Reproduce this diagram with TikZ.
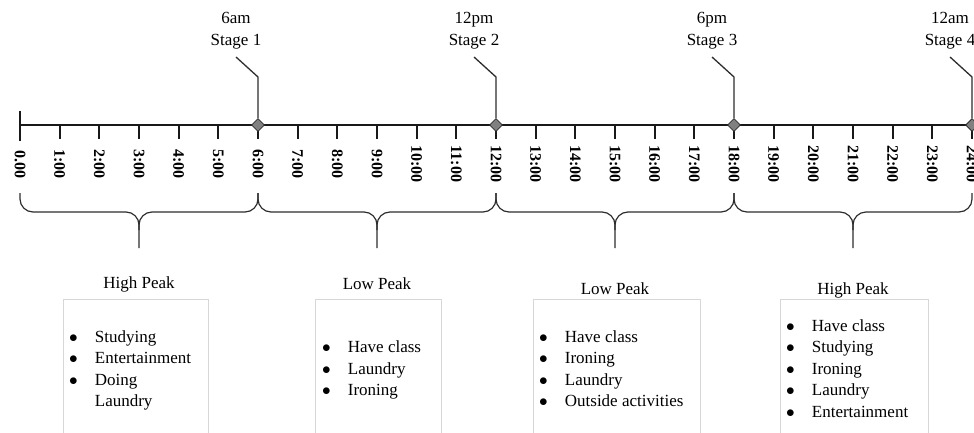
\documentclass[tikz,border=0pt]{standalone}
\usepackage{fontspec}
\setmainfont{Liberation Serif}
\usetikzlibrary{
    positioning,                      % above=of, below=of, etc.
    shapes.geometric,                 % diamond
    calc                              % ($(a)+(1,0)$)
}
\definecolor{mark_gray}{RGB}{128,128,128}
\definecolor{line_dark}{RGB}{45,45,45}
\definecolor{frame_light}{RGB}{215,215,215}
\tikzset{
    axis/.style={
        line width=2pt, black!90
    },
    hourtick/.style={
        line width=1.8pt, black!90
    },
    hourlabel/.style={
        rotate=-90, inner sep=0pt,
        font=\fontsize{16}{16}\selectfont\bfseries
    },
    stagemark/.style={
        diamond, draw=line_dark, fill=mark_gray,
        minimum size=13pt, inner sep=0pt, line width=0.8pt
    },
    stageline/.style={
        line_dark, line width=1.3pt
    },
    stagelabel/.style={
        align=center, inner sep=0pt, anchor=south,
        font=\fontsize{17}{21.5}\selectfont
    },
    brace/.style={
        line_dark, line width=1.2pt, rounded corners=13pt
    },
    peakbox/.style={
        draw=frame_light, line width=1pt, anchor=north west,
        minimum height=160pt, inner sep=0pt
    },
    peaktitle/.style={
        anchor=base, inner sep=0pt,
        font=\fontsize{17}{21.5}\selectfont
    },
    peaklist/.style={
        anchor=west, inner sep=0pt,
        font=\fontsize{17}{21.5}\selectfont
    }
}
\newcommand{\itm}{\makebox[25.7pt][l]{$\bullet$}}

\begin{document}
\begin{tikzpicture}[x=1pt, y=1pt]
    \useasboundingbox (0,0) rectangle (974,-433);

    % --- Eje de 24 horas ---
    \coordinate (t0) at (20,-125);
    \coordinate (tend) at (974,-125);
    \draw[axis] (t0) -- (tend);
    \draw[axis] ([yshift=14pt]t0) -- ([yshift=-16pt]t0);
    \foreach \h in {1,...,24} {
        \pgfmathsetmacro\hx{20+\h*39.667}
        \draw[hourtick] (\hx,-125) -- ++(0,-14);
    }
    \foreach \h in {0,...,24} {
        \pgfmathsetmacro\hx{20+\h*39.667}
        \node[hourlabel] (hour\h) at (\hx,-164)
            {\ifnum\h=0 0.00\else\h:00\fi};
    }

    % --- Etapas ---
    \foreach \i/\h/\tm in {1/6/6am, 2/12/12pm, 3/18/6pm, 4/24/12am} {
        \pgfmathsetmacro\hx{20+\h*39.667}
        \node[stagemark] (mark\i) at (\hx,-125) {};
        \node[stagelabel] (stage\i) at (\hx-22,-49) {\tm\\Stage \i};
        \draw[stageline] ([yshift=-8pt]stage\i.south) -- ++(22,-20) -- (mark\i.north);
    }

    % --- Llaves por intervalo ---
    \foreach \a/\b in {0/6, 6/12, 12/18, 18/24} {
        \pgfmathsetmacro\xa{20+\a*39.667}
        \pgfmathsetmacro\xb{20+\b*39.667}
        \pgfmathsetmacro\xc{(\xa+\xb)/2}
        \draw[brace] (\xa,-193) |- (\xc,-212) -- (\xc,-248);
        \draw[brace] (\xb,-193) |- (\xc,-212) -- (\xc,-230);
    }

    % --- Cajas de actividades ---
    \node[peakbox, minimum width=145pt] (box1) at (63,-299) {};
    \node[peakbox, minimum width=126pt] (box2) at (315,-299) {};
    \node[peakbox, minimum width=167pt] (box3) at (533,-299) {};
    \node[peakbox, minimum width=148pt] (box4) at (780,-299) {};

    \node[peaktitle] (title1) at (139,-288) {High Peak};
    \node[peaktitle] (title2) at (377,-289.5) {Low Peak};
    \node[peaktitle] (title3) at (615,-294) {Low Peak};
    \node[peaktitle] (title4) at (853,-294) {High Peak};

    \node[peaklist] (list1) at ($(box1.north west)+(6,-71)$) {%
        \begin{tabular}{@{}l@{}l@{}}
            \itm & Studying\\
            \itm & Entertainment\\
            \itm & Doing\\
                 & Laundry
        \end{tabular}};
    \node[peaklist] (list2) at ($(box2.north west)+(7,-71)$) {%
        \begin{tabular}{@{}l@{}l@{}}
            \itm & Have class\\
            \itm & Laundry\\
            \itm & Ironing
        \end{tabular}};
    \node[peaklist] (list3) at ($(box3.north west)+(6,-71)$) {%
        \begin{tabular}{@{}l@{}l@{}}
            \itm & Have class\\
            \itm & Ironing\\
            \itm & Laundry\\
            \itm & Outside activities
        \end{tabular}};
    \node[peaklist] (list4) at ($(box4.north west)+(6,-71)$) {%
        \begin{tabular}{@{}l@{}l@{}}
            \itm & Have class\\
            \itm & Studying\\
            \itm & Ironing\\
            \itm & Laundry\\
            \itm & Entertainment
        \end{tabular}};

\end{tikzpicture}
\end{document}
